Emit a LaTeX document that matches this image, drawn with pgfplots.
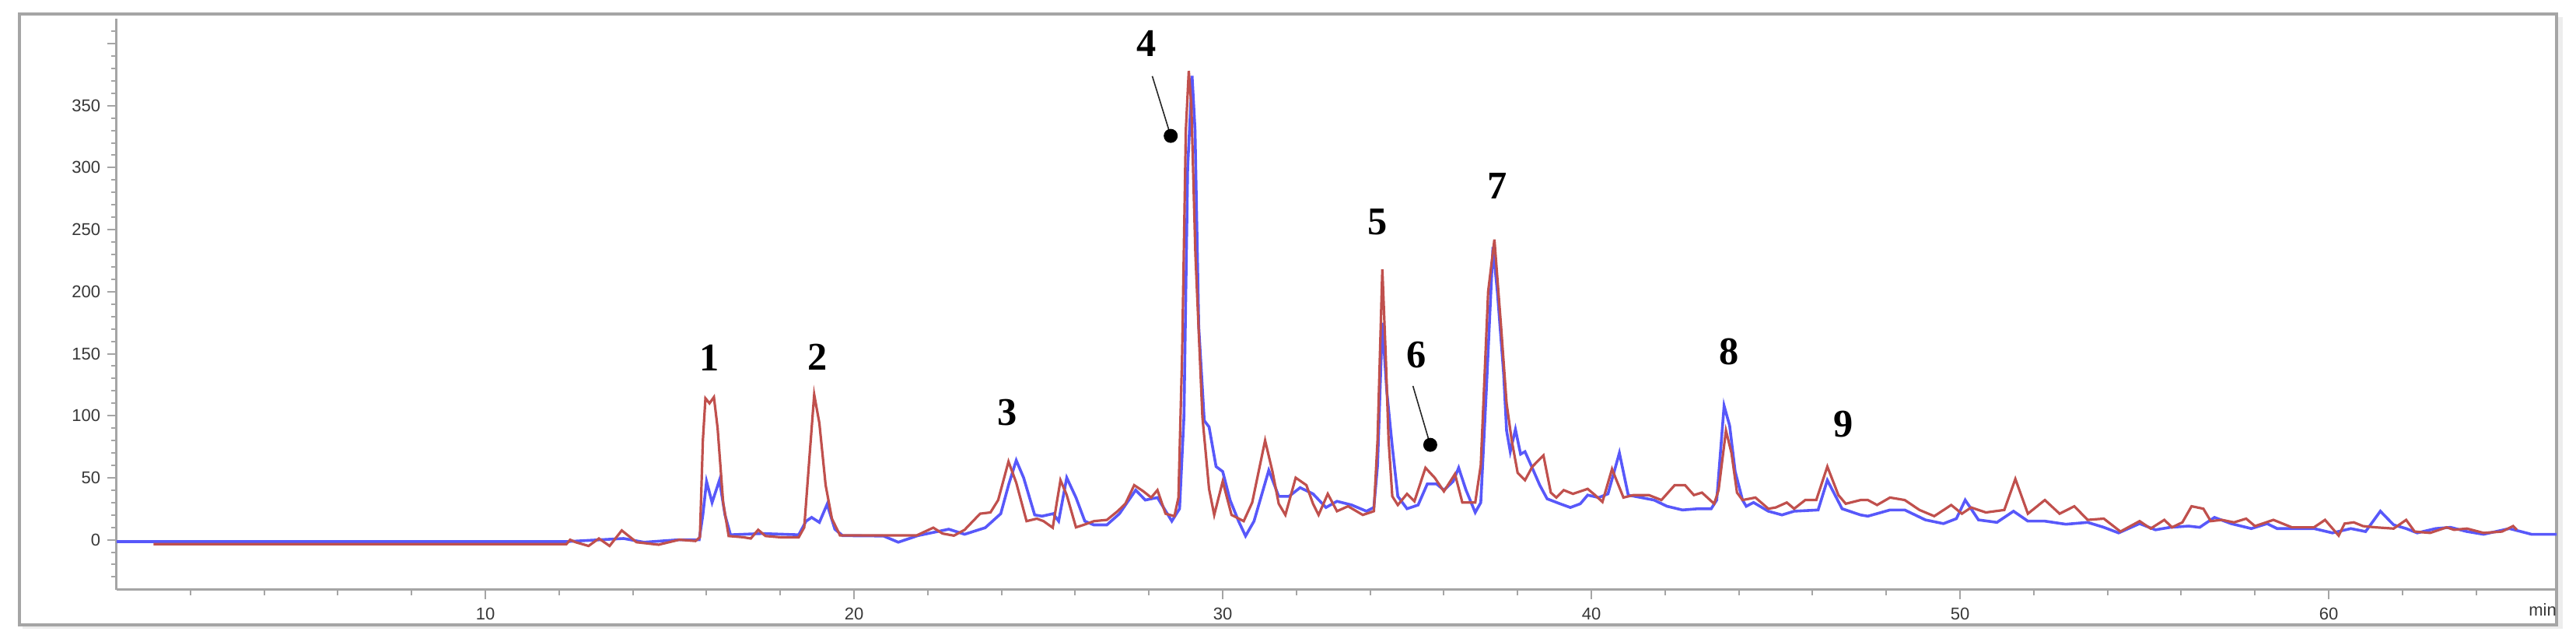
\documentclass[border=0pt]{standalone}
\usepackage{fontspec}
\setmainfont{Liberation Serif}
\setsansfont{Liberation Sans}
\usepackage{pgfplots}
\usepackage{pgfplotstable}
\pgfplotsset{compat=1.18}

\definecolor{trRed}{RGB}{192,80,77}
\definecolor{trBlue}{RGB}{88,88,250}
\definecolor{frameGray}{RGB}{165,165,165}

% blue trace
\pgfplotstableread{
t v
0 -1.5
12.2 -1.5
13.75 1
14.3 -2
15.26 0
15.8 0
15.9 20
16.0 47
16.15 30
16.35 48
16.5 20
16.65 4
17.5 5
18.5 4
18.7 15
18.85 18
19.06 14
19.27 28.6
19.48 8.5
19.69 3.3
20.8 3
21.2 -2
21.73 3.3
22.57 8.5
23.0 4.4
23.56 9.7
23.98 21
24.2 45
24.4 64
24.6 50
24.9 20
25.1 19
25.4 21
25.55 15
25.77 50
26.02 34
26.26 15
26.5 12
26.86 12
27.2 21
27.64 40
27.9 32
28.23 34
28.62 15
28.83 25
28.95 100
29.05 300
29.17 374
29.25 330
29.35 172
29.5 96
29.63 91
29.82 59
30.0 55
30.2 32
30.43 15
30.62 3
30.85 15
31.25 56
31.52 35
31.8 35
32.1 42
32.45 37
32.8 26
33.1 31
33.5 28
33.9 23
34.1 26
34.2 60
34.33 175
34.45 120
34.6 75
34.75 35
35.0 25
35.3 28
35.55 45
35.8 45
36.0 40
36.25 47
36.4 58
36.6 40
36.85 22
37.0 30
37.15 120
37.33 236
37.45 200
37.62 134
37.7 88
37.8 71
37.94 89
38.08 69
38.2 71
38.38 59
38.6 44
38.8 33
39.15 29
39.43 26
39.7 29
39.9 36
40.2 34
40.45 37
40.76 70
41.0 36
41.35 34
41.7 32
42.05 27
42.47 24
42.9 25
43.25 25
43.4 32
43.6 108
43.75 92
43.9 55
44.1 32
44.2 27
44.4 30
44.8 23
45.17 20
45.5 23
46.15 24
46.4 48
46.8 25
47.3 20
47.5 19
48.1 24
48.5 24
49.06 16
49.55 13
49.9 17
50.14 32
50.5 16
51.0 14
51.45 23
51.84 15
52.3 15
52.87 12.5
53.46 14
53.9 10
54.3 5.5
54.87 13
55.3 8
55.7 10
56.2 11
56.5 10
56.9 18
57.35 13
57.9 9
58.33 13
58.6 9
59.6 9
60.1 5.5
60.6 9
61.0 6.6
61.4 23
61.76 12
62.1 9
62.4 5.5
62.9 9
63.3 10
63.75 6.6
64.2 4.4
64.9 9
65.5 4.4
66.18 4.4
}\bluetrace

% red trace
\pgfplotstableread{
t v
1.0 -3.5
12.2 -3.5
12.3 0
12.45 -2
12.8 -5
13.08 1
13.37 -5
13.7 7.5
14.1 -2
14.7 -4
15.26 0
15.7 -1
15.82 2
15.9 80
15.97 114
16.08 110
16.2 115
16.3 90
16.45 30
16.6 3
17.0 2
17.2 1
17.4 8
17.6 3
18.0 2
18.5 2
18.65 10
18.8 70
18.92 117
19.06 94
19.23 44
19.4 17
19.62 3.5
20.9 3.5
21.7 3.5
22.15 9.7
22.4 5
22.71 3.3
23.0 8
23.42 21
23.7 22
23.91 32
24.19 63
24.4 46
24.68 15
24.96 17
25.14 15
25.39 9.7
25.5 30
25.6 48
25.77 36
26.02 10
26.23 12
26.51 15
26.86 16
27.15 23
27.36 29
27.6 44
27.85 39
28.06 34
28.23 40
28.45 21
28.69 19
28.8 34
28.9 150
29.0 330
29.08 378
29.15 350
29.26 230
29.45 99
29.63 41
29.77 20
30.0 47
30.24 20
30.57 15
30.8 30
31.15 80
31.35 55
31.52 29
31.7 20
31.98 50
32.27 44
32.45 29
32.6 20
32.85 37
33.1 23
33.4 27
33.8 20
34.1 23
34.2 80
34.33 218
34.42 150
34.5 80
34.6 35
34.75 28
35.0 37
35.2 31
35.5 58
35.75 50
36.0 39
36.3 53
36.5 30
36.85 30
37.0 60
37.2 200
37.37 242
37.55 172
37.7 110
37.84 80
38.0 54
38.2 48
38.4 59
38.7 68
38.9 38
39.05 34
39.25 40
39.5 37
39.9 41
40.1 36
40.3 30.5
40.56 57
40.87 34
41.14 36
41.56 36
41.9 32
42.26 44
42.54 44
42.78 36
43.0 38
43.33 29
43.45 40
43.65 88
43.8 70
43.95 38
44.1 32
44.45 34
44.8 25
45.0 26
45.3 30
45.5 25
45.8 32
46.1 32
46.4 59
46.7 36
46.9 29
47.3 32
47.5 32
47.75 28
48.1 34
48.5 32
48.9 24
49.3 19
49.76 28
50.05 21
50.3 26
50.7 22
51.2 24
51.5 49
51.84 21
52.3 32
52.7 21
53.1 27
53.46 16
53.9 17
54.35 6.6
54.87 15
55.17 9
55.54 16
55.75 10
56.03 14
56.28 27
56.6 25
56.8 15
57.1 16
57.43 14
57.76 17
58.0 11
58.5 16
59.0 10
59.6 10
59.9 16
60.27 3.3
60.43 13
60.68 14
60.93 11
61.27 10
61.76 9
62.1 16
62.33 6.6
62.75 5.5
63.2 10
63.4 8
63.75 9
64.2 5.5
64.7 6.6
65.0 11
65.1 8
}\redtrace

\begin{document}
\begin{tikzpicture}
% outer frame with a faint shadow
\fill[black!7] (-30.25pt,-12.6pt) rectangle (786.2pt,183.9pt);
\fill[white] (-31.25pt,-11.375pt) rectangle (784.25pt,184.875pt);
\draw[frameGray, line width=0.8pt] (-31.25pt,-11.375pt) rectangle (784.25pt,184.875pt);

\begin{axis}[
    at={(0,0)}, anchor=south west,
    scale only axis,
    width=784.25pt, height=183.375pt,
    xmin=0, xmax=66.18,
    ymin=-40.1, ymax=420.1,
    axis x line*=bottom,
    axis y line*=left,
    axis line style={draw=frameGray, line width=0.75pt, -},
    xtick={10,20,...,60},
    minor xtick={2,4,...,64},
    ytick={0,50,...,400},
    yticklabels={0,50,100,150,200,250,300,350,},
    minor ytick={-30,-20,...,410},
    tick align=outside,
    major tick length=3pt,
    minor tick length=1.8pt,
    tick style={draw=frameGray, line width=0.5pt},
    ticklabel style={font=\sffamily\fontsize{5.5}{6.5}\selectfont, text=black!78},
    yticklabel style={xshift=1.3pt},
    xticklabel style={yshift=0.6pt},
    /pgf/number format/assume math mode=true,
    clip=false,
]
\addplot[trBlue, line width=0.9pt] table[x=t, y=v] {\bluetrace};
\addplot[trRed, line width=0.8pt] table[x=t, y=v] {\redtrace};

% peak numbers
\begin{scope}[every node/.style={font=\bfseries\fontsize{12.6}{14}\selectfont}]
\node at (axis cs:16.08,146.5) {1};
\node at (axis cs:19.0,147) {2};
\node at (axis cs:24.16,102.6) {3};
\node at (axis cs:27.93,400) {4};
\node at (axis cs:34.19,256) {5};
\node at (axis cs:35.25,149) {6};
\node at (axis cs:37.45,285) {7};
\node at (axis cs:43.74,151.8) {8};
\node at (axis cs:46.84,93) {9};
\end{scope}

% callouts for peaks 4 and 6
\draw[black!85, line width=0.4pt] (axis cs:28.09,373.8) -- (axis cs:28.59,325.6);
\fill (axis cs:28.59,325.6) circle[radius=2.25pt];
\draw[black!85, line width=0.4pt] (axis cs:35.16,124) -- (axis cs:35.63,76.5);
\fill (axis cs:35.63,76.5) circle[radius=2.25pt];

\node[font=\sffamily\fontsize{5.5}{6.5}\selectfont, text=black!78] at (axis cs:65.8,-40.1) [yshift=-6.6pt] {min};
\end{axis}

\pgfresetboundingbox
\useasboundingbox (-37.5pt,-16.875pt) rectangle (790.5pt,189.375pt);
\end{tikzpicture}
\end{document}
